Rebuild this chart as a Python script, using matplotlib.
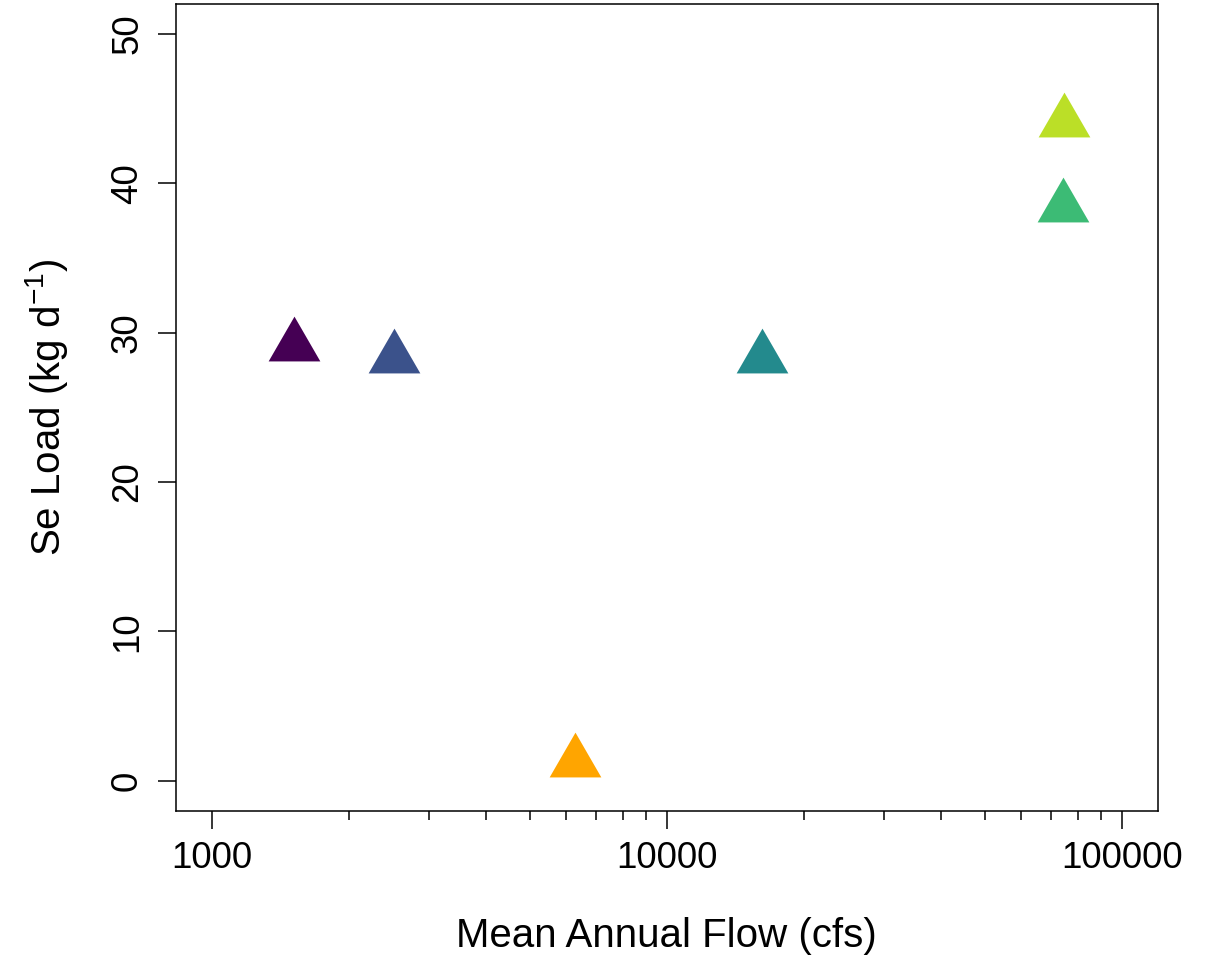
import numpy as np
import matplotlib
matplotlib.use("Agg")
import matplotlib.pyplot as plt
from matplotlib.path import Path
from matplotlib.ticker import FixedLocator, FixedFormatter, NullFormatter

# Data
flow = [1518, 2517, 6270, 16220, 74500, 74800]
load = [29.1, 28.3, 1.28, 28.3, 38.4, 44.1]
colors = ["#450054", "#3B528B", "#FFA500", "#238A8D", "#3CBB75", "#BBDF27"]

x_major = [1000, 10000, 100000]
x_major_labels = ["1000", "10000", "100000"]
x_minor = [m * d for d in (1000, 10000) for m in range(2, 10)]
y_major = [0, 10, 20, 30, 40, 50]

plt.rcParams["font.family"] = ["Liberation Sans", "DejaVu Sans"]
plt.rcParams["mathtext.fontset"] = "custom"
plt.rcParams["mathtext.rm"] = "Liberation Sans"
plt.rcParams["mathtext.it"] = "Liberation Sans:italic"
plt.rcParams["mathtext.bf"] = "Liberation Sans:bold"

fig = plt.figure(figsize=(12.09, 9.55), dpi=100)
ax = fig.add_axes([0.1453, 0.1511, 0.9578 - 0.1453, 0.9958 - 0.1511])

# centroid-centred triangle (R pch 17 style)
tri = Path([(0, 1), (-0.8660254, -0.5), (0.8660254, -0.5), (0, 1)],
           [Path.MOVETO, Path.LINETO, Path.LINETO, Path.CLOSEPOLY])

for xv, yv, c in zip(flow, load, colors):
    ax.plot([xv], [yv], marker=tri, markersize=43, color=c,
            markeredgewidth=0, linestyle="none")

ax.set_xscale("log")
ax.set_xlim(10 ** 2.92, 10 ** 5.08)
ax.set_ylim(-2, 52)

ax.xaxis.set_major_locator(FixedLocator(x_major))
ax.xaxis.set_major_formatter(FixedFormatter(x_major_labels))
ax.xaxis.set_minor_locator(FixedLocator(x_minor))
ax.xaxis.set_minor_formatter(NullFormatter())
ax.yaxis.set_major_locator(FixedLocator(y_major))
ax.yaxis.set_minor_locator(FixedLocator([]))

for s in ax.spines.values():
    s.set_linewidth(1.1)

ax.tick_params(axis="both", which="major", length=13, width=1.1,
               labelsize=26.5, direction="out", pad=9)
ax.tick_params(axis="x", which="minor", length=6.5, width=1.1, direction="out")
ax.tick_params(axis="y", which="major", labelrotation=90)
for lab in ax.get_yticklabels():
    lab.set_verticalalignment("center")

ax.set_xlabel("Mean Annual Flow (cfs)", fontsize=29, labelpad=29)
ax.set_ylabel("Se Load (kg d$^{-1}$)", fontsize=29, labelpad=29)

fig.savefig("out.png", dpi=100)
